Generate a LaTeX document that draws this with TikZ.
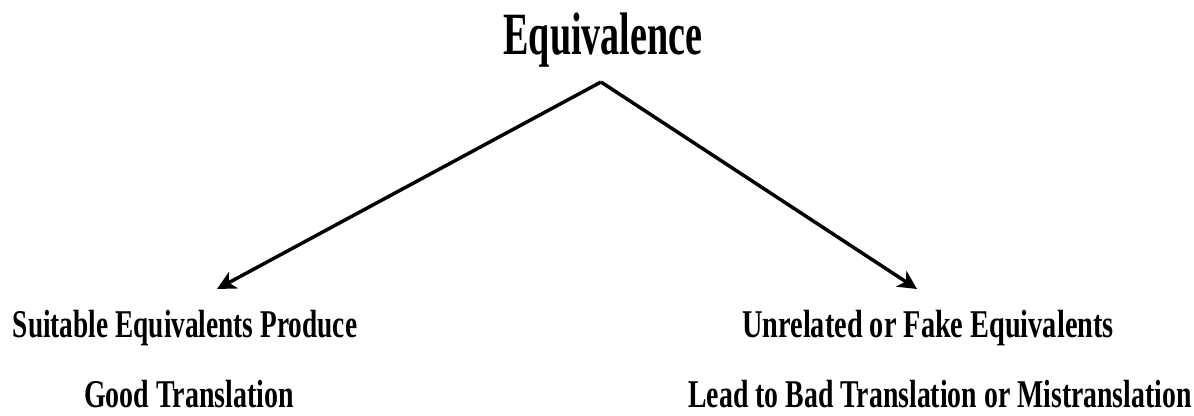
\documentclass[tikz,border=0pt]{standalone}
\usepackage{fontspec}
\setmainfont{Liberation Serif}
\usetikzlibrary{arrows.meta}
\newcommand{\sqz}[2]{\scalebox{#1}[1]{#2}}
\tikzset{
  title/.style={inner sep=0pt, anchor=base, font=\fontsize{45}{46}\bfseries\selectfont},
  label/.style={inner sep=0pt, anchor=base, font=\fontsize{29.5}{30}\bfseries\selectfont},
  conn/.style={line width=2.6pt, -{Stealth[length=14pt,width=14pt,inset=4pt]}}
}
\begin{document}
\begin{tikzpicture}[x=0.75pt,y=-0.75pt]
\useasboundingbox (0,0) rectangle (1194,416);
\node[title] (eq) at (603,55) {\sqz{0.635}{Equivalence}};
\coordinate (apex) at (601,82);
\node[label] (l1) at (185,337) {\sqz{0.695}{Suitable Equivalents Produce}};
\node[label] (l2) at (189,407) {\sqz{0.71}{Good Translation}};
\node[label] (r1) at (928,337) {\sqz{0.72}{Unrelated or Fake Equivalents}};
\node[label] (r2) at (940,407) {\sqz{0.706}{Lead to Bad Translation or Mistranslation}};
\coordinate (ltip) at (217,289);
\coordinate (rtip) at (917,289);
\draw[conn] (apex) -- (ltip);
\draw[conn] (apex) -- (rtip);
\end{tikzpicture}
\end{document}
